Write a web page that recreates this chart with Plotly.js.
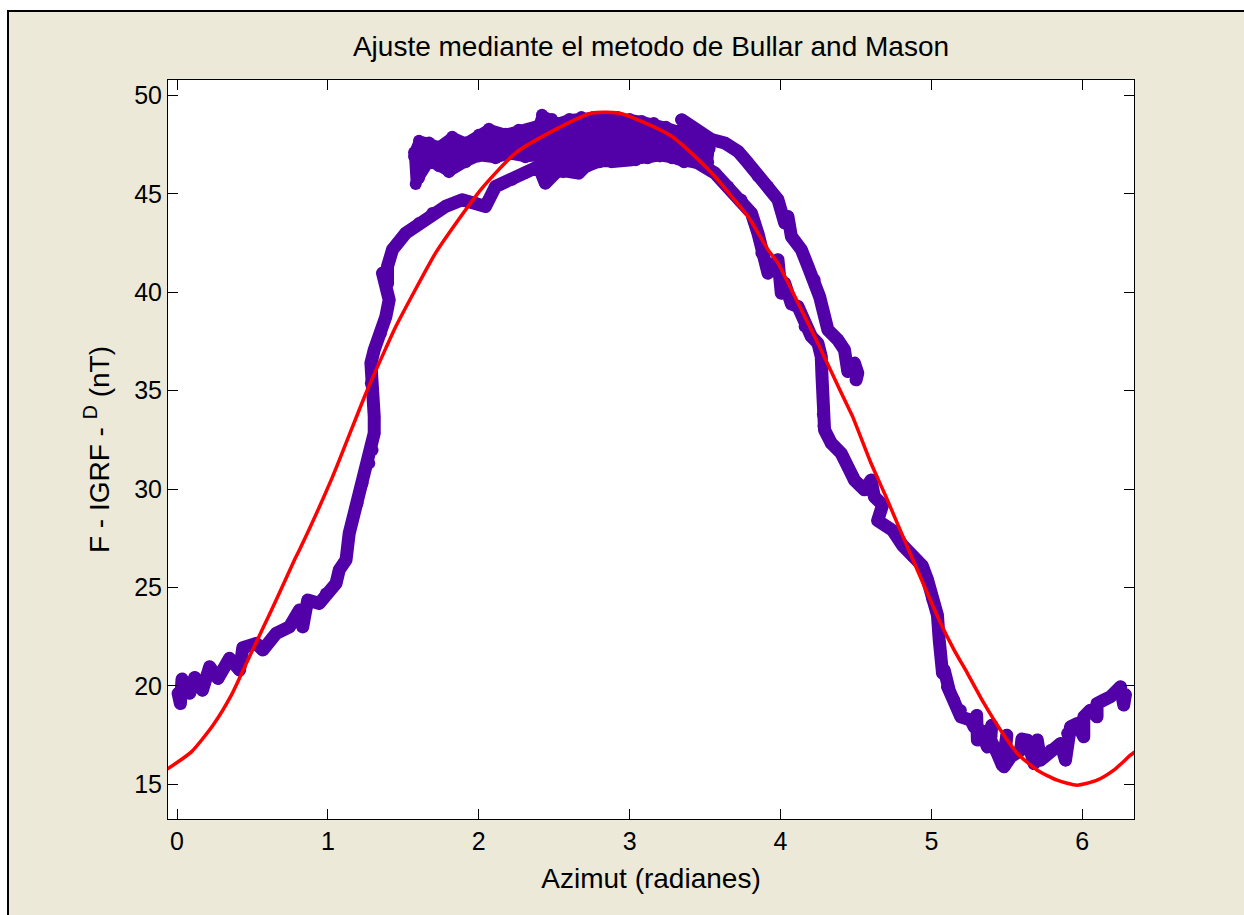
<!DOCTYPE html>
<html>
<head>
<meta charset="utf-8">
<script src="https://cdn.plot.ly/plotly-3.0.1.min.js"></script>
<style>
  html, body { margin: 0; padding: 0; background: #ffffff; width: 1244px; height: 915px; overflow: hidden; }
  #frame { position: absolute; left: 7px; top: 10px; width: 1300px; height: 1000px;
           background: #ECE9D8; border-top: 2px solid #000; border-left: 2px solid #000; }
  #chart { position: absolute; left: 0; top: 0; width: 1244px; height: 915px; }
  /* rounded joins so the dense survey track reads as one band */
  #chart .js-line { stroke-linejoin: round !important; stroke-linecap: round !important; }
</style>
</head>
<body>
<div id="frame"></div>
<div id="chart"></div>
<script>
// Measured anomaly, lower branch (rising side, x = 0 .. 3)
const branchA_x = [0.007,0.022,0.033,0.084,0.117,0.168,0.216,0.271,0.348,0.414,0.436,0.525,0.568,0.657,0.745,0.811,0.833,0.866,0.943,0.987,1.054,1.075,1.120,1.141,1.196,1.229,1.274,1.296,1.307,1.307,1.300,1.285,1.285,1.307,1.351,1.384,1.406,1.362,1.395,1.395,1.428,1.516,1.604,1.692,1.780,1.890,1.979,2.045,2.111,2.221,2.309,2.397,2.441,2.529,2.662,2.706,2.794,2.838,2.904,2.970,3.014];
const branchA_y = [19.62,19.11,20.35,19.63,20.43,19.78,20.97,20.38,21.40,20.80,21.94,22.16,21.82,22.67,23.00,23.85,23.00,24.36,24.19,24.70,25.21,25.89,26.40,27.75,29.28,30.30,31.31,31.99,32.84,33.68,34.53,35.38,36.40,37.07,37.92,38.76,39.61,40.97,40.46,41.31,42.16,43.00,43.51,44.02,44.36,44.70,44.53,44.36,45.37,45.71,46.05,46.39,45.54,46.22,46.05,46.39,46.65,46.73,46.65,46.73,46.73];

// Upper branch and crest as one outlined region:
// top edge from x = 1.57 to 3.52, then the lower edge back to the start
const crest_x = [1.571,1.604,1.670,1.736,1.824,1.913,2.000,2.067,2.177,2.265,2.397,2.419,2.485,2.520,2.600,2.680,2.760,2.840,2.920,3.000,3.080,3.160,3.240,3.320,3.400,3.480,3.530,
                 3.520,3.440,3.360,3.280,3.200,3.120,3.040,2.960,2.880,2.800,2.720,2.640,2.560,2.480,2.440,2.400,2.309,2.200,2.111,2.000,1.913,1.802,1.736,1.670,1.604,1.582,1.571];
const crest_y = [47.10,47.70,47.60,47.40,47.90,47.60,48.00,48.30,48.05,48.25,48.50,49.02,48.80,48.60,48.80,48.90,48.90,48.90,48.90,48.80,48.70,48.60,48.40,48.20,48.20,48.00,47.30,
                 46.60,46.60,46.60,46.80,46.90,46.80,46.70,46.70,46.60,46.60,46.40,46.20,46.10,46.00,46.50,46.90,46.85,47.00,46.80,46.90,46.60,46.10,46.40,46.60,45.80,45.50,46.90];

// Falling side, outer branch (x = 3.5 .. 4.5)
const branchC_x = [3.344,3.476,3.543,3.631,3.719,3.785,3.851,3.917,3.983,4.028,4.049,4.072,4.138,4.182,4.226,4.259,4.281,4.314,4.380,4.424,4.446,4.490,4.512,4.501];
const branchC_y = [48.76,48.09,47.75,47.58,47.15,46.56,45.88,45.37,44.70,43.51,43.85,42.83,42.16,41.31,40.63,39.78,39.10,38.09,37.58,37.07,35.97,36.40,35.89,35.55];

// Falling side, inner branch down to the trough (x = 3.2 .. 6.3)
const branchD_x = [3.190,3.301,3.455,3.565,3.653,3.741,3.807,3.850,3.873,3.917,3.983,4.005,4.028,4.072,4.116,4.160,4.204,4.248,4.270,4.275,4.281,4.281,4.285,4.292,4.336,4.402,4.446,4.490,4.556,4.600,4.622,4.677,4.644,4.743,4.809,4.875,4.940,4.974,5.007,5.040,5.052,5.063,5.074,5.085,5.118,5.107,5.151,5.195,5.195,5.261,5.283,5.300,5.305,5.327,5.371,5.400,5.393,5.437,5.470,5.500,5.481,5.525,5.592,5.600,5.614,5.636,5.680,5.702,5.724,5.790,5.856,5.889,5.900,5.922,5.966,6.010,6.010,6.054,6.098,6.098,6.142,6.187,6.253,6.275,6.286];
const branchD_y = [47.07,46.82,46.56,46.05,45.37,44.70,44.02,43.00,41.99,40.97,41.65,39.95,40.46,39.40,39.27,38.26,37.75,37.41,36.73,35.72,34.70,33.80,33.20,33.00,32.33,31.82,31.14,30.46,29.96,30.46,29.61,29.20,28.40,27.90,27.14,26.60,26.10,25.40,24.40,23.60,22.33,21.65,20.64,20.81,19.79,19.96,19.28,18.77,18.43,18.26,17.92,18.50,17.25,17.75,16.90,18.00,17.25,16.57,15.97,17.50,15.89,16.39,16.74,17.30,17.25,17.25,16.06,17.25,16.23,16.74,17.08,16.23,17.59,17.92,18.09,17.42,18.43,18.77,18.43,19.11,19.28,19.45,19.96,19.03,19.55];

// Bullard and Mason fitted curve
const fit_x = [-0.060,0.095,0.238,0.360,0.469,0.568,0.657,0.778,0.811,1.031,1.252,1.384,1.450,1.714,1.802,2.022,2.243,2.485,2.749,2.926,3.102,3.278,3.433,3.565,3.675,3.785,3.917,3.983,4.116,4.182,4.248,4.336,4.446,4.478,4.600,4.699,4.850,5.052,5.151,5.239,5.349,5.459,5.570,5.702,5.834,5.966,6.098,6.209,6.319,6.343];
const fit_y = [15.80,16.65,18.00,19.53,21.31,22.92,24.36,26.40,26.90,30.63,34.87,37.16,38.26,42.00,43.00,45.29,47.07,48.17,49.10,49.10,48.60,47.92,46.90,45.88,44.87,43.85,42.16,41.48,39.45,38.43,37.41,35.97,34.19,33.68,31.31,29.61,26.90,23.34,21.82,20.64,19.11,17.75,16.57,15.72,15.21,14.96,15.21,15.72,16.48,16.62];

const xTicks = [0, 1, 2, 3, 4, 5, 6];
const yTicks = [15, 20, 25, 30, 35, 40, 45, 50];

const DOT = '#5200A8';
const FONT = 'Liberation Sans, Arial, Helvetica, sans-serif';

function band(xs, ys, extra) {
  return Object.assign({
    x: xs, y: ys, type: 'scatter', mode: 'lines+markers',
    line: { color: DOT, width: 13 },
    marker: { color: DOT, size: 12, line: { width: 0 } },
    connectgaps: false, hoverinfo: 'skip', showlegend: false
  }, extra || {});
}

const traces = [
  band(branchA_x, branchA_y),
  band(crest_x, crest_y, { fill: 'toself', fillcolor: DOT, line: { color: DOT, width: 10 } }),
  band(branchC_x, branchC_y),
  band(branchD_x, branchD_y),
  {
    x: fit_x, y: fit_y, type: 'scatter', mode: 'lines',
    line: { color: '#FF0000', width: 3.5, shape: 'spline', smoothing: 0.6 },
    hoverinfo: 'skip', showlegend: false
  }
];

const axisCommon = {
  ticks: 'inside', ticklen: 10, tickwidth: 1, tickcolor: '#000',
  showline: true, linecolor: '#000', linewidth: 1, mirror: 'ticks',
  showgrid: false, zeroline: false,
  tickfont: { family: FONT, size: 25, color: '#000' }
};

const layout = {
  width: 1244, height: 915,
  margin: { l: 168, r: 110, t: 80, b: 96, pad: 0 },
  paper_bgcolor: 'rgba(0,0,0,0)',
  plot_bgcolor: '#ffffff',
  font: { family: FONT, color: '#000' },
  title: {
    text: 'Ajuste mediante el metodo de Bullar and Mason',
    font: { family: FONT, size: 28, color: '#000' },
    x: 0.5233, xref: 'container', xanchor: 'center',
    y: 0.949, yref: 'container', yanchor: 'middle'
  },
  xaxis: Object.assign({}, axisCommon, {
    range: [-0.06, 6.343], tickvals: xTicks, ticktext: xTicks.map(String),
    title: { text: 'Azimut (radianes)', font: { family: FONT, size: 28, color: '#000' }, standoff: 14 }
  }),
  yaxis: Object.assign({}, axisCommon, {
    range: [13.24, 50.78], tickvals: yTicks, ticktext: yTicks.map(String),
    title: { text: 'F - IGRF - <sup>D</sup> (nT)', font: { family: FONT, size: 28, color: '#000' }, standoff: 16 }
  }),
  hovermode: false
};

Plotly.newPlot('chart', traces, layout, { staticPlot: true, displayModeBar: false });
</script>
</body>
</html>
